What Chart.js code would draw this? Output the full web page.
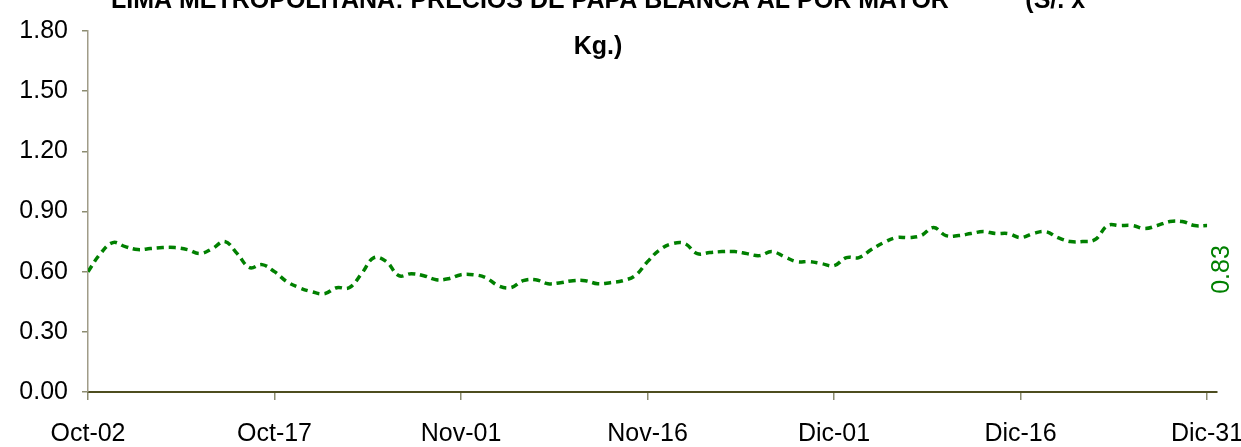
<!DOCTYPE html>
<html>
<head>
<meta charset="utf-8">
<script src="https://cdn.jsdelivr.net/npm/chart.js@4.4.1/dist/chart.umd.min.js"></script>
<style>
  html, body { margin: 0; padding: 0; background: #ffffff; overflow: hidden; }
  #wrap { position: absolute; left: 0; top: 0; width: 1241px; height: 447px; }
</style>
</head>
<body>
<div id="wrap"><canvas id="c" width="1241" height="447"></canvas></div>
<script>
const titleLines = ["LIMA METROPOLITANA: PRECIOS DE PAPA BLANCA AL POR MAYOR           (S/. x", "Kg.)"];
const tickLabels = ["Oct-02", "Oct-17", "Nov-01", "Nov-16", "Dic-01", "Dic-16", "Dic-31"];
const tickDays = [0, 15, 30, 45, 60, 75, 90];
const yTicks = [0.00, 0.30, 0.60, 0.90, 1.20, 1.50, 1.80];
// daily wholesale price, Oct-02 .. Dic-31 (S/. x Kg.)
const prices = [
  0.60, 0.69, 0.745, 0.725, 0.71, 0.715, 0.72, 0.72, 0.71, 0.69,
  0.715, 0.75, 0.69, 0.62, 0.635, 0.60, 0.55, 0.52, 0.50, 0.49,
  0.52, 0.52, 0.59, 0.67, 0.65, 0.58, 0.59, 0.58, 0.56, 0.565,
  0.585, 0.585, 0.57, 0.53, 0.52, 0.555, 0.56, 0.54, 0.545, 0.555,
  0.555, 0.54, 0.545, 0.555, 0.58, 0.65, 0.71, 0.74, 0.74, 0.69,
  0.695, 0.70, 0.70, 0.69, 0.68, 0.70, 0.675, 0.65, 0.65, 0.64,
  0.63, 0.67, 0.67, 0.71, 0.745, 0.77, 0.77, 0.78, 0.82, 0.78,
  0.78, 0.79, 0.80, 0.79, 0.79, 0.77, 0.79, 0.80, 0.77, 0.75,
  0.75, 0.76, 0.83, 0.83, 0.83, 0.815, 0.83, 0.85, 0.85, 0.83,
  0.83
];
const lastLabel = "0.83";

const FONT = "'Liberation Sans', Arial, sans-serif";
const GREEN = "#008000";

const titlePlugin = {
  id: 'customTitle',
  afterDraw(chart) {
    const ctx = chart.ctx;
    ctx.save();
    ctx.fillStyle = "#000000";
    ctx.font = "bold 25px " + FONT;
    ctx.textAlign = "center";
    ctx.textBaseline = "alphabetic";
    ctx.fillText(titleLines[0], 598, 8);
    ctx.fillText(titleLines[1], 598, 54);
    ctx.restore();
  }
};

const lastLabelPlugin = {
  id: 'lastLabel',
  afterDatasetsDraw(chart) {
    const meta = chart.getDatasetMeta(0);
    const pt = meta.data[meta.data.length - 1];
    if (!pt) return;
    const ctx = chart.ctx;
    ctx.save();
    ctx.fillStyle = GREEN;
    ctx.font = "25px " + FONT;
    ctx.translate(pt.x + 15, pt.y + 44);
    ctx.rotate(-Math.PI / 2);
    ctx.textAlign = "center";
    ctx.textBaseline = "middle";
    ctx.fillText(lastLabel, 0, 0);
    ctx.restore();
  }
};

new Chart(document.getElementById('c'), {
  type: 'line',
  data: {
    datasets: [{
      data: prices.map((v, i) => ({ x: i, y: v })),
      borderColor: GREEN,
      borderWidth: 3.5,
      borderDash: [7, 5],
      pointRadius: 0,
      tension: 0.4,
      fill: false
    }]
  },
  options: {
    responsive: false,
    animation: false,
    events: [],
    layout: { padding: { left: 0, right: 24, top: 31, bottom: 0 } },
    plugins: { legend: { display: false }, title: { display: false }, tooltip: { enabled: false } },
    scales: {
      x: {
        type: 'linear',
        min: 0,
        max: 90.8,
        afterBuildTicks(scale) { scale.ticks = tickDays.map(v => ({ value: v })); },
        afterFit(scale) { scale.height = 55; scale.paddingLeft = 0; scale.paddingRight = 0; },
        ticks: {
          autoSkip: false,
          maxRotation: 0,
          padding: 19,
          color: "#000000",
          font: { family: FONT, size: 25 },
          callback: (v) => { const k = tickDays.indexOf(v); return k >= 0 ? tickLabels[k] : ''; }
        },
        grid: { drawOnChartArea: false, drawTicks: true, tickLength: 8, color: "#8c8c70", lineWidth: 1.5 },
        border: { display: true, color: "#4d4d1f", width: 2 }
      },
      y: {
        min: 0,
        max: 1.8,
        afterBuildTicks(scale) { scale.ticks = yTicks.map(v => ({ value: v })); },
        afterFit(scale) { scale.width = 88; scale.paddingTop = 0; scale.paddingBottom = 0; },
        ticks: {
          padding: 14,
          color: "#000000",
          font: { family: FONT, size: 25 },
          callback: (v) => Number(v).toFixed(2)
        },
        grid: { drawOnChartArea: false, drawTicks: true, tickLength: 6, color: "#8c8c70", lineWidth: 1.5 },
        border: { display: true, color: "#a09c88", width: 1.5 }
      }
    }
  },
  plugins: [titlePlugin, lastLabelPlugin]
});
</script>
</body>
</html>
